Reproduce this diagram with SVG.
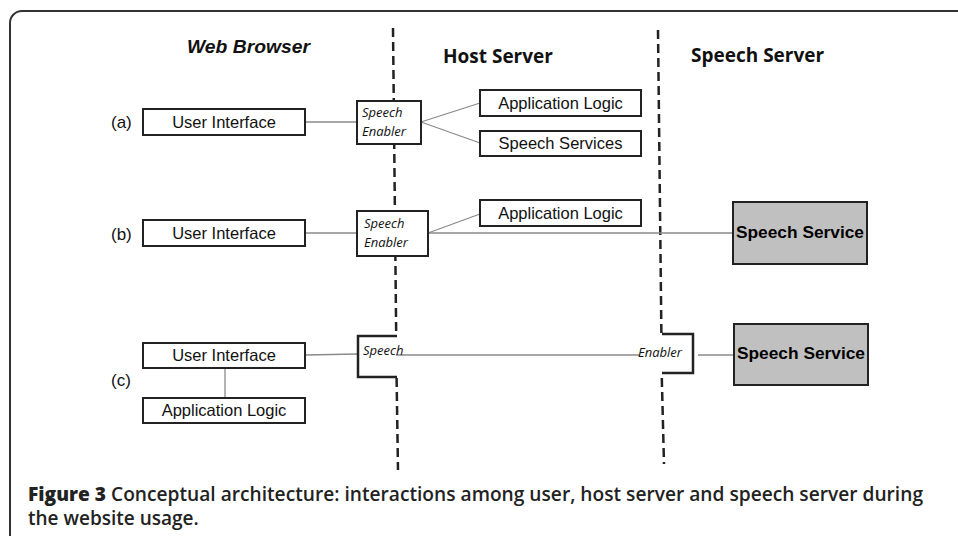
<svg xmlns="http://www.w3.org/2000/svg" width="958" height="536" viewBox="0 0 958 536">
<style>
.box{fill:#fff;stroke:#222;stroke-width:2}
.gbox{fill:#c0c0c0;stroke:#222;stroke-width:2}
.lbl{font-family:"Liberation Sans",Arial,sans-serif;font-size:16.5px;fill:#111;text-anchor:middle}
.tag{font-family:"Liberation Sans",Arial,sans-serif;font-size:17px;fill:#111}
.en{font-family:"Open Sans","DejaVu Sans",sans-serif;font-style:italic;font-size:13px;fill:#111}
.ss{font-family:"Liberation Sans",Arial,sans-serif;font-weight:bold;font-size:17px;fill:#000;text-anchor:middle}
.hd{font-family:"Open Sans","DejaVu Sans",sans-serif;font-weight:700;font-size:19px;fill:#111}
.cap{font-family:"Open Sans","DejaVu Sans",sans-serif;font-weight:600;font-size:19px;fill:#222}
.ln{stroke:#8a8a8a;stroke-width:1.3;fill:none}
.dash{stroke:#222;stroke-width:2.5;stroke-dasharray:9,5;fill:none}
.br{stroke:#222;stroke-width:2.5;fill:none}
</style>
<rect width="958" height="536" fill="#fff"/>
<path d="M10 540 V23 A12 12 0 0 1 22 11 H960" fill="none" stroke="#333" stroke-width="2"/>

<g id="headers">
<text x="187" y="53" font-family="'Liberation Sans',Arial,sans-serif" font-style="italic" font-weight="bold" font-size="19" fill="#111" textLength="123" lengthAdjust="spacingAndGlyphs">Web Browser</text>
<text class="hd" x="443" y="63">Host Server</text>
<text class="hd" x="691" y="62">Speech Server</text>
</g>

<g id="boundaries">
<path class="dash" d="M393 28 L396.2 336"/>
<path class="dash" d="M396.6 378 L398 470"/>
<path class="dash" d="M658 30 L661.4 334"/>
<path class="dash" d="M661.8 378 L664 464"/>
</g>

<g id="connectors">
<path class="ln" d="M305 122 H357"/>
<path class="ln" d="M421 122 L480 103"/>
<path class="ln" d="M421 122 L480 143"/>
<path class="ln" d="M305 233 H357"/>
<path class="ln" d="M428 233 L480 214"/>
<path class="ln" d="M428 233 H733"/>
<path class="ln" d="M225 368 V398"/>
<path class="ln" d="M305 355 L358 354"/>
<path class="ln" d="M396 355 H640"/>
<path class="ln" d="M698 355 H734"/>
</g>

<g id="labels">
<text class="tag" x="111" y="128">(a)</text>
<text class="tag" x="111" y="240">(b)</text>
<text class="tag" x="111" y="386">(c)</text>
</g>

<g id="ui-a"><rect class="box" x="143" y="109" width="162" height="26"/><text class="lbl" x="224" y="128">User Interface</text></g>
<g id="enabler-a"><rect class="box" x="357" y="101" width="64" height="43" stroke-width="2.6"/><text class="en" x="362" y="117">Speech</text><text class="en" x="362" y="136">Enabler</text></g>
<g id="applogic-a"><rect class="box" x="480" y="90" width="161" height="26"/><text class="lbl" x="560.5" y="109">Application Logic</text></g>
<g id="speechservices-a"><rect class="box" x="480" y="131" width="161" height="25"/><text class="lbl" x="560.5" y="149">Speech Services</text></g>

<g id="ui-b"><rect class="box" x="143" y="220" width="162" height="26"/><text class="lbl" x="224" y="239">User Interface</text></g>
<g id="enabler-b"><rect class="box" x="357" y="211" width="71" height="45" stroke-width="1.6"/><text class="en" x="364" y="228">Speech</text><text class="en" x="364" y="247">Enabler</text></g>
<g id="applogic-b"><rect class="box" x="480" y="200" width="161" height="26"/><text class="lbl" x="560.5" y="219">Application Logic</text></g>
<g id="speechservice-b"><rect class="gbox" x="733" y="202" width="134" height="62"/><text class="ss" x="800" y="238" textLength="128" lengthAdjust="spacingAndGlyphs">Speech Service</text></g>

<g id="ui-c"><rect class="box" x="143" y="343" width="162" height="25"/><text class="lbl" x="224" y="361">User Interface</text></g>
<g id="applogic-c"><rect class="box" x="143" y="398" width="162" height="25"/><text class="lbl" x="224" y="416">Application Logic</text></g>
<g id="enabler-c-speech"><path class="br" d="M397 336 H358 V377 H397"/><text class="en" x="363" y="355">Speech</text></g>
<g id="enabler-c-enabler"><path class="br" d="M662 334 H693 V373 H662"/><text class="en" x="638" y="357">Enabler</text></g>
<g id="speechservice-c"><rect class="gbox" x="734" y="324" width="134" height="61"/><text class="ss" x="801" y="359" textLength="128" lengthAdjust="spacingAndGlyphs">Speech Service</text></g>

<g id="caption">
<text class="cap" x="28" y="501" textLength="895" lengthAdjust="spacingAndGlyphs"><tspan font-weight="800">Figure 3</tspan> Conceptual architecture: interactions among user, host server and speech server during</text>
<text class="cap" x="28" y="525">the website usage.</text>
</g>
</svg>
